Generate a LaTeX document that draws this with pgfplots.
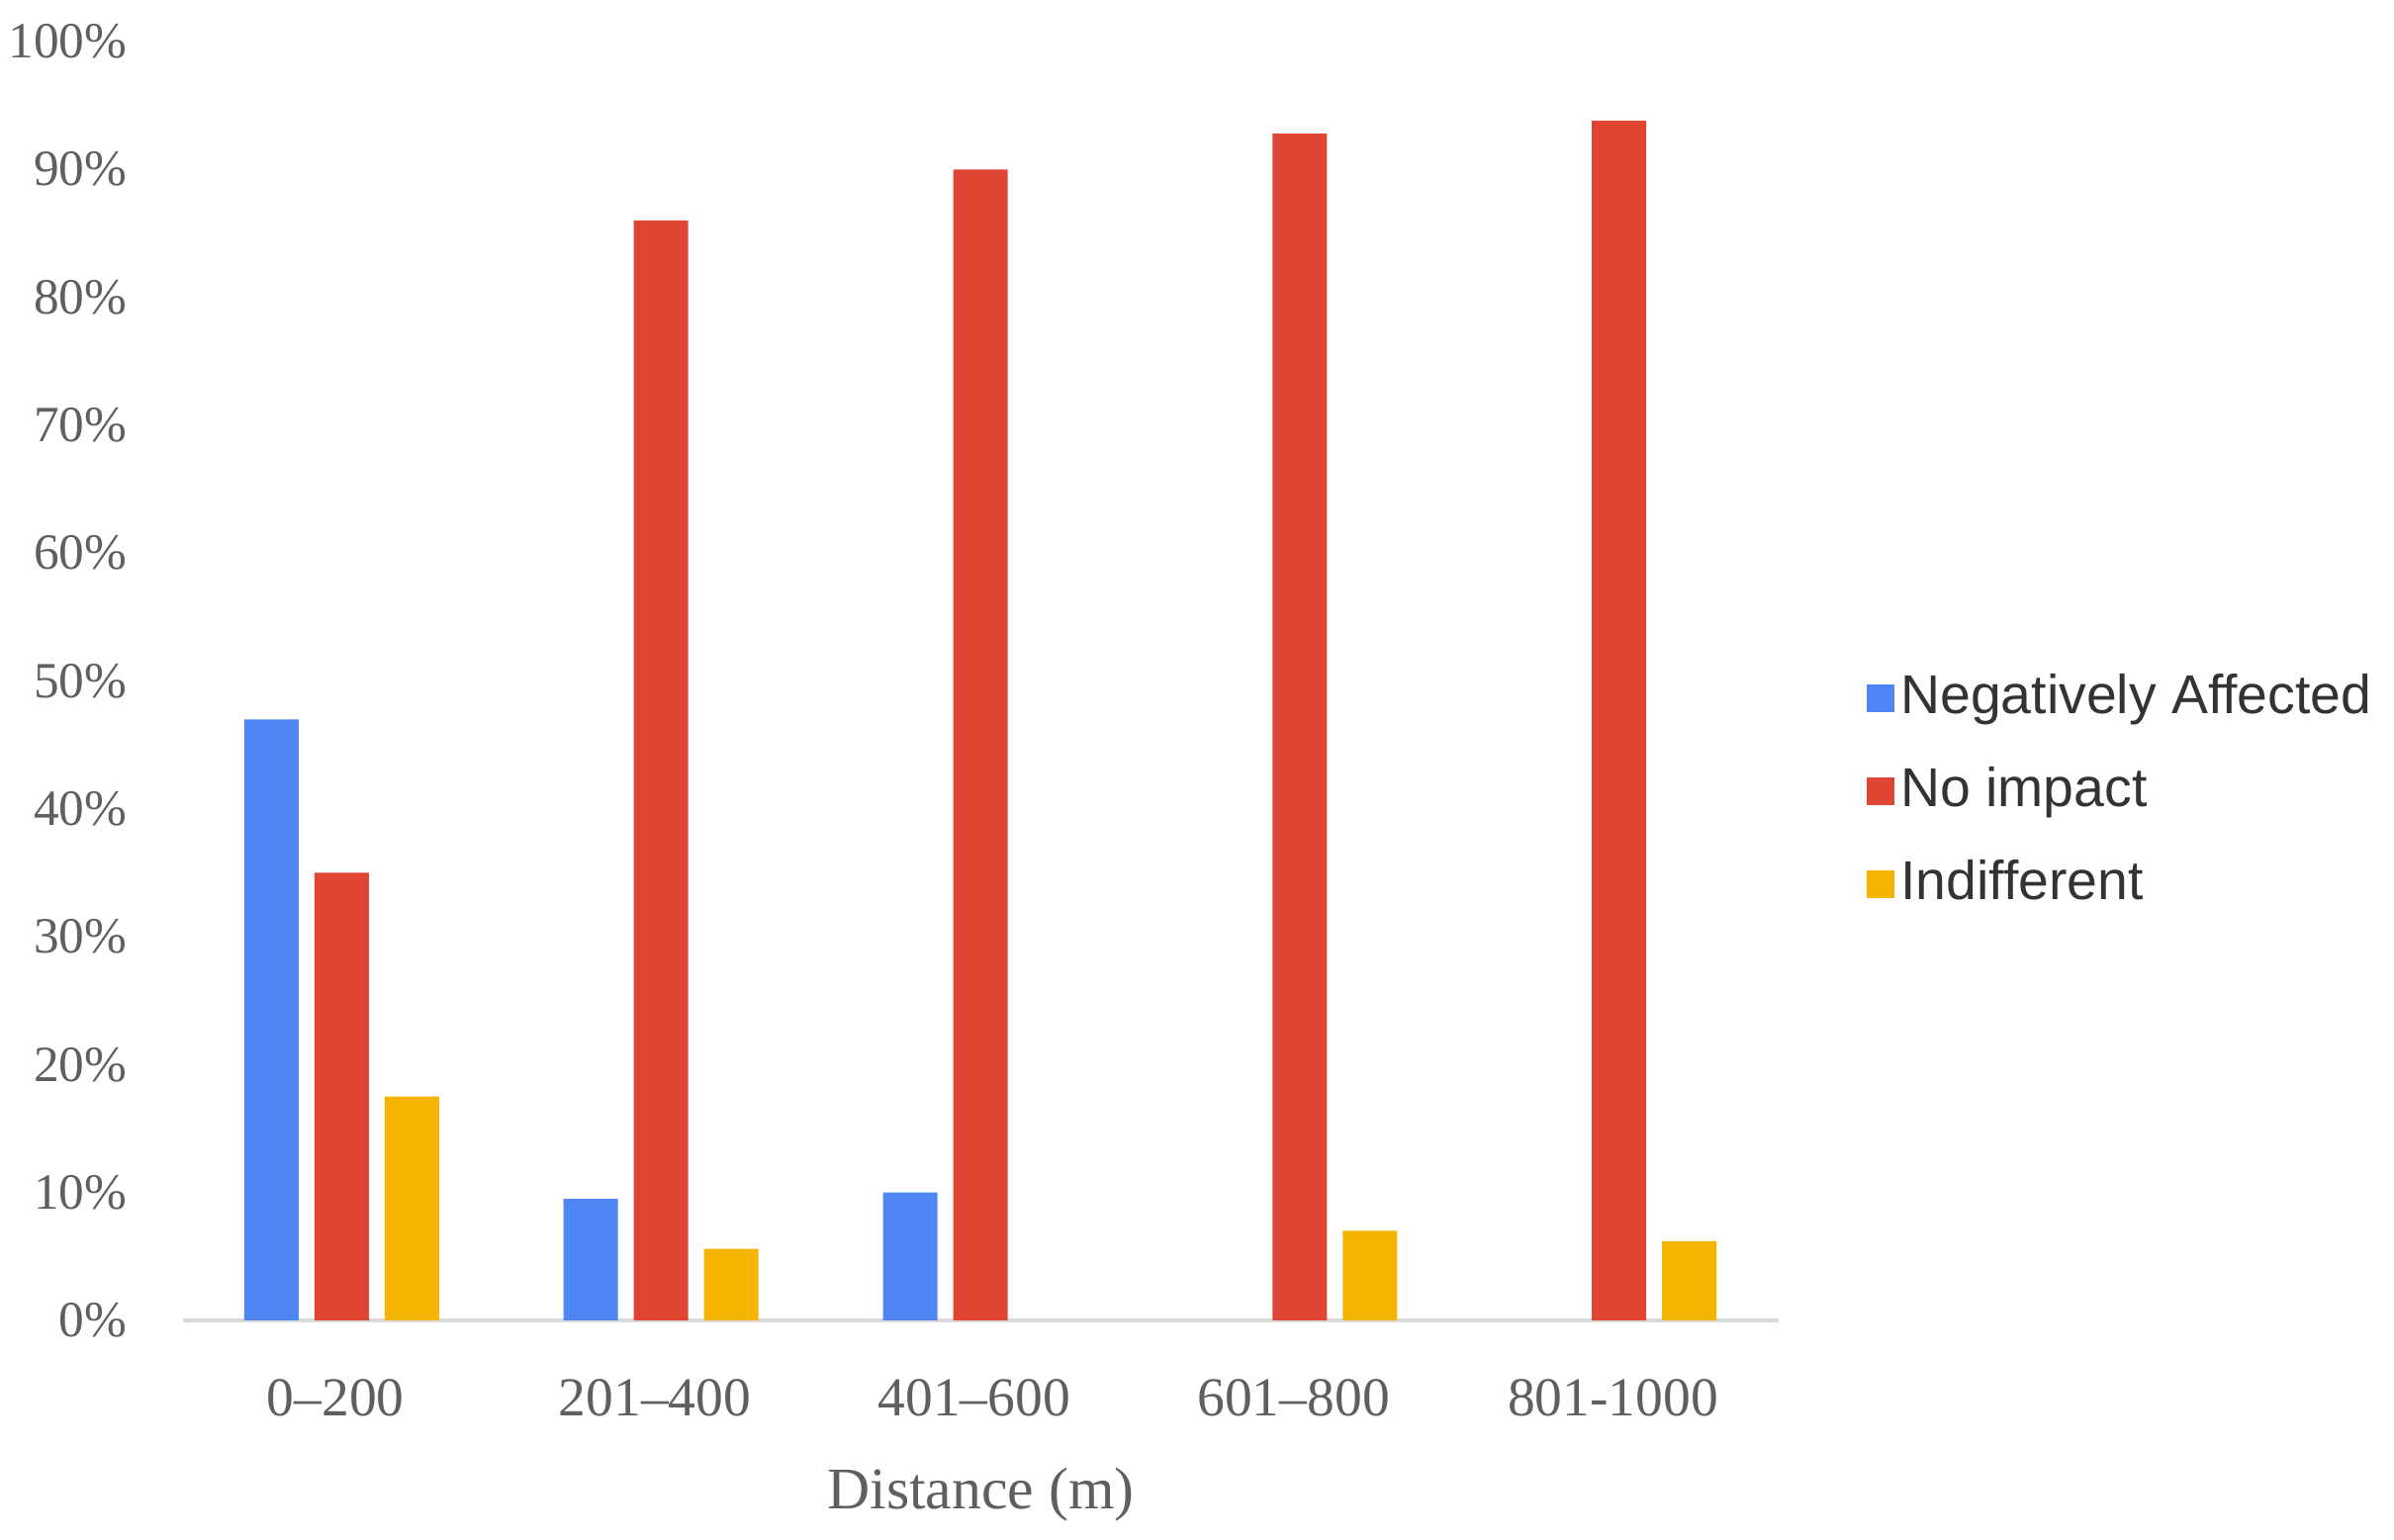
\documentclass[border=0pt]{standalone}
\usepackage{pgfplots}
\pgfplotsset{compat=1.18}
\usepackage{fontspec}
\setmainfont{Liberation Serif}
\newfontfamily\legendfont{Liberation Sans}
\definecolor{gblue}{HTML}{4F86F5}
\definecolor{gred}{HTML}{E04432}
\definecolor{gyellow}{HTML}{F4B400}
\definecolor{ticktext}{HTML}{5F5F5F}
\definecolor{legtext}{HTML}{333333}
\begin{document}
\begin{tikzpicture}
\begin{axis}[
  scale only axis,
  width=161.3mm, height=129.3mm,
  ybar, bar width=5.5mm, ybar=1.6mm,
  xmin=-0.497, xmax=4.50,
  ymin=0, ymax=100,
  xtick={0,1,2,3,4},
  xticklabels={0–200,201–400,401–600,601–800,801-1000},
  ytick={0,10,...,100},
  yticklabel={\pgfmathprintnumber{\tick}\%},
  /pgf/number format/assume math mode=true,
  major tick length=0pt,
  axis x line*=bottom,
  axis y line*=left,
  y axis line style={draw=none},
  x axis line style={draw=black!15, line width=1.2pt},
  yticklabel style={font=\fontsize{14.6}{18}\selectfont, text=ticktext, anchor=east, inner sep=0pt, xshift=-5.6mm},
  xticklabel style={font=\fontsize{15.8}{18}\selectfont, text=ticktext, anchor=center, inner sep=0pt, yshift=-7.8mm, xshift=-0.62mm},
  xlabel={Distance (m)},
  xlabel style={at={(axis description cs:0.5,0)}, anchor=center, yshift=-17.6mm, font=\fontsize{17}{20}\selectfont, text=ticktext},
  legend style={at={(1.055,0.4134)}, anchor=west, draw=none, fill=none, inner sep=0pt,
    font=\legendfont\fontsize{15.75}{18}\selectfont, text=legtext,
    row sep=3.2mm,
    nodes={inner sep=0.6mm, text height=4mm, text depth=1mm}},
  legend cell align=left,
  legend image code/.code={\fill[#1] (0mm,-1.4mm) rectangle (2.8mm,1.4mm);},
]
\addplot[fill=gblue, draw=none] coordinates {(0,47) (1,9.5) (2,10)};
\addplot[fill=gred, draw=none] coordinates {(0,35) (1,86) (2,90) (3,92.8) (4,93.8)};
\addplot[fill=gyellow, draw=none] coordinates {(0,17.5) (1,5.6) (3,7.0) (4,6.2)};
\legend{Negatively Affected, No impact, Indifferent}
\end{axis}
\pgfresetboundingbox
\path (-18.5mm,-22.2mm) rectangle (223.5mm,133.5mm);
\end{tikzpicture}
\end{document}
